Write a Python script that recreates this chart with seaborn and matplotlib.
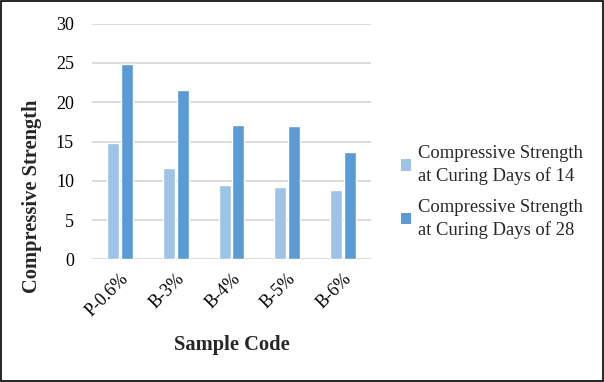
import matplotlib
matplotlib.use("Agg")
import matplotlib.pyplot as plt
import seaborn as sns
import pandas as pd
from matplotlib.patches import Patch

categories = ["P-0.6%", "B-3%", "B-4%", "B-5%", "B-6%"]
series_names = ["Compressive Strength\nat Curing Days of 14",
                "Compressive Strength\nat Curing Days of 28"]
strength_14 = [14.8, 11.6, 9.5, 9.2, 8.8]
strength_28 = [24.9, 21.6, 17.1, 17.0, 13.6]
colors = ["#9DC3E6", "#5B9BD5"]

df = pd.DataFrame({
    "Sample Code": categories * 2,
    "Strength": strength_14 + strength_28,
    "Series": [series_names[0]] * len(categories) + [series_names[1]] * len(categories),
})

sns.set_theme(style="white")
plt.rcParams["font.family"] = ["Liberation Serif", "DejaVu Serif"]

fig = plt.figure(figsize=(6.04, 3.82), dpi=100)
ax = fig.add_axes([92 / 604, 1 - 259.3 / 382, (371 - 92) / 604, (259.3 - 23.7) / 382])

sns.barplot(data=df, x="Sample Code", y="Strength", hue="Series",
            palette=colors, width=0.5, gap=0.14, ax=ax, legend=False,
            saturation=1)

ax.set_ylim(0, 30)
ax.set_yticks(range(0, 31, 5))
ax.set_xlim(-0.5, len(categories) - 0.5)
ax.yaxis.grid(True, color="#D9D9D9", linewidth=1.3)
ax.set_axisbelow(True)
for s in ax.spines.values():
    s.set_visible(False)
ax.tick_params(axis="y", length=0, pad=13, labelsize=13, colors="#000000")
ax.tick_params(axis="x", length=0, pad=8, labelsize=13, colors="#000000")
for lbl in ax.get_xticklabels():
    lbl.set_rotation(45)
    lbl.set_ha("right")
    lbl.set_rotation_mode("anchor")

ax.set_xlabel("Sample Code", fontsize=14.8, fontweight="bold")
ax.set_ylabel("Compressive Strength", fontsize=14.8, fontweight="bold")
ax.xaxis.set_label_coords(0.5, -(345 - 259.3) / (259.3 - 23.7))
ax.xaxis.label.set_va("center")
ax.yaxis.set_label_coords(-(92 - 32) / (371 - 92), (259.3 - 196) / (259.3 - 23.7))
ax.yaxis.label.set_va("center")

handles = [Patch(facecolor=c, edgecolor="none") for c in colors]
leg = fig.legend(handles, series_names, loc="center left",
                 bbox_to_anchor=(401 / 604, 1 - 192 / 382),
                 frameon=False, fontsize=13.4, handlelength=0.55, handleheight=0.55,
                 handletextpad=0.35, labelspacing=0.75, borderpad=0, borderaxespad=0)
for t in leg.get_texts():
    t.set_linespacing(1.35)

fig.patches.append(plt.Rectangle((0.0015, 0.002), 0.997, 0.995, transform=fig.transFigure,
                                 fill=False, edgecolor="black", linewidth=1.2))

fig.savefig("out.png", dpi=100)
